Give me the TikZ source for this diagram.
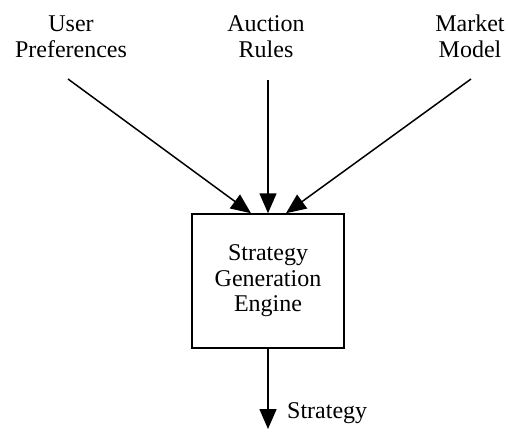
\documentclass[tikz,border=0pt]{standalone}
\usepackage{fontspec}
\setmainfont{Liberation Serif}
\usetikzlibrary{arrows.meta}
\begin{document}
\begin{tikzpicture}[x=1pt,y=-1pt,
  lbl/.style={font=\fontsize{24}{26}\selectfont, align=center, inner sep=0pt},
  conn/.style={line width=1.5pt, -{Triangle[length=20pt,width=17pt]}},
  engbox/.style={draw, line width=1.5pt, minimum width=152pt, minimum height=134pt, inner sep=0pt, font=\fontsize{24}{25.5}\selectfont, align=center}]
\useasboundingbox (0,0) rectangle (508,433);
\node[lbl, anchor=base] (user) at (71,58) {User\\Preferences};
\node[lbl, anchor=base] (auction) at (266,58) {Auction\\Rules};
\node[lbl, anchor=base] (market) at (470,58) {Market\\Model};
\node[engbox] (eng) at (268,281) {Strategy\\Generation\\Engine};
\coordinate (s1) at (68,79);
\coordinate (s2) at (268,80);
\coordinate (s3) at (471,79);
\coordinate (e) at (268,429);
\draw[conn] (s1) -- ([xshift=-17pt]eng.north);
\draw[conn] (s2) -- (eng.north);
\draw[conn] (s3) -- ([xshift=18pt]eng.north);
\draw[conn] (eng.south) -- (e);
\node[lbl, anchor=base west] (strat) at (287,418) {Strategy};
\end{tikzpicture}
\end{document}
